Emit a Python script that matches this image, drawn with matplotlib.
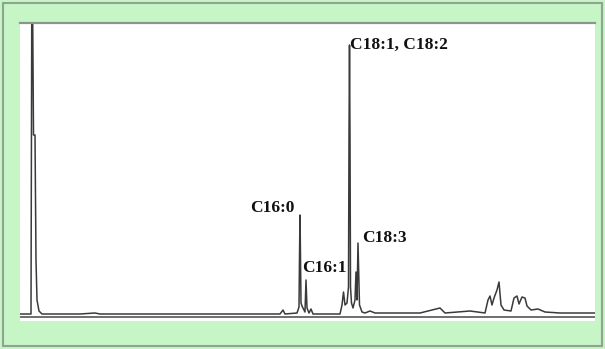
import matplotlib
matplotlib.use("Agg")
import matplotlib.pyplot as plt
from matplotlib.patches import Rectangle

# Chromatogram trace (time in min, detector signal)
time = [0.0, 1.1, 1.2, 1.35, 1.5, 1.6, 1.7, 1.9, 2.2, 6.0, 7.5, 8.0, 13.0, 20.0,
        26.0, 26.3, 26.5, 27.7, 27.9, 27.95, 28.0, 28.05, 28.1, 28.2, 28.5, 28.6, 28.7, 28.9,
        29.1, 29.3, 32.0, 32.2, 32.35, 32.5, 32.7, 32.85, 32.9, 32.95, 33.0, 33.05, 33.15,
        33.3, 33.5, 33.6, 33.7, 33.8, 33.95, 34.2, 34.5, 35.0, 35.5, 40.0, 42.0,
        42.5, 45.0, 46.5, 46.8, 47.0, 47.2, 47.4, 47.7, 47.9, 48.1, 48.4, 49.1,
        49.4, 49.7, 49.9, 50.2, 50.5, 50.7, 51.1, 51.8, 52.5, 54.0, 57.5]
signal = [3, 3, 400, 182, 182, 57, 17, 6, 3, 3, 4, 3, 3, 3,
          3, 7, 3, 4, 10, 60, 102, 60, 14, 11, 5, 37, 9, 4,
          8, 3, 3, 12, 25, 12, 14, 30, 180, 272, 180, 30, 14,
          9, 17, 45, 17, 74, 12, 5, 4, 6, 4, 4, 9,
          4, 6, 4, 17, 21, 12, 19, 27, 35, 12, 7, 6,
          19, 21, 13, 20, 19, 11, 7, 8, 5, 4, 4]

labels = ["C16:0", "C16:1", "C18:1, C18:2", "C18:3"]
label_t = [23.0, 28.2, 33.05, 34.2]
label_s = [109, 49, 272, 79]

green = "#c6f5c6"
fig = plt.figure(figsize=(6.05, 3.49), dpi=100, facecolor=green)
fig.patches.append(Rectangle((3/605, 3/349), 599/605, 343/349, transform=fig.transFigure,
                             fill=False, edgecolor="#8fa38f", linewidth=1.5))

ax = fig.add_axes([20/605, 28/349, 575/605, 298/349])
ax.set_facecolor("white")
ax.plot(time, signal, color="#3a3a3a", linewidth=1.1)
ax.axhline(0, color="#555555", linewidth=1.2)
ax.set_xlim(0, 57.5)
ax.set_ylim(-4, 294)
ax.set_xticks([])
ax.set_yticks([])
for side in ["left", "right", "bottom"]:
    ax.spines[side].set_visible(False)
ax.spines["top"].set_color("#8a968a")
ax.spines["top"].set_linewidth(1.6)

for lab, t, s in zip(labels, label_t, label_s):
    ax.text(t, s, lab, ha="left", va="center", fontsize=12.5, fontweight="bold",
            family="Liberation Serif", color="#111111")

fig.savefig("out.png", dpi=100, facecolor=green)
